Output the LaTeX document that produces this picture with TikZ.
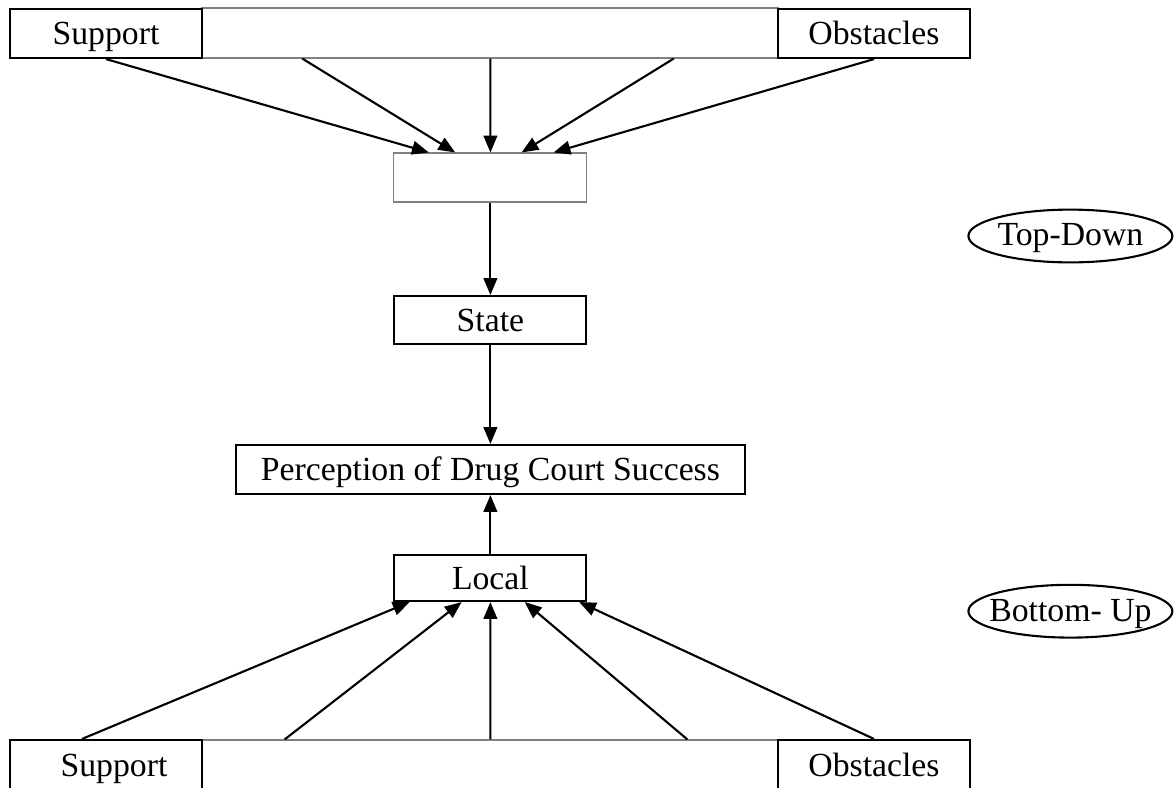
\documentclass[tikz,border=0pt]{standalone}
\usepackage{fontspec}
\setmainfont{Liberation Serif}
\usetikzlibrary{arrows.meta,shapes.geometric}
\tikzset{
	box/.style = {draw, line width = 0.75pt, minimum width = 2.4cm, minimum height = 0.6cm, inner sep = 0pt, text height = 9.5pt, text depth = 1.5pt, font = \fontsize{12}{14}\selectfont},
	cell/.style = {draw = gray, line width = 0.4pt, minimum height = 0.625cm, inner sep = 0pt},
	oval/.style = {draw, ellipse, line width = 0.75pt, minimum width = 2.55cm, minimum height = 0.66cm, inner xsep = -0.18cm, inner ysep = 0pt, text height = 9pt, text depth = 2pt, font = \fontsize{12}{14}\selectfont},
	arr/.style = {line width = 0.75pt, -{Triangle[length = 2.1mm, width = 1.7mm]}}
}
\begin{document}
\begin{tikzpicture}
	\clip (0, 0) rectangle (14.6875, -9.8375);
	\fill[white] (0, 0) rectangle (14.6875, -9.8375);
	
	\node[cell, minimum width = 7.2cm] (topmid) at (6.125, -0.4125) {};
	\node[box, minimum height = 0.6125cm] (topsupport) at (1.325, -0.419) {Support};
	\node[box, minimum height = 0.6125cm] (topobstacles) at (10.925, -0.419) {Obstacles};
	
	\node[cell, minimum width = 2.4125cm, minimum height = 0.6125cm] (blank) at (6.13, -2.219) {};
	\node[box] (state) at (6.13, -4.0) {State};
	\node[box, minimum width = 6.3625cm, minimum height = 0.6125cm] (success) at (6.13, -5.869) {Perception of Drug Court Success};
	\node[box, minimum height = 0.575cm] (local) at (6.13, -7.225) {Local};
	
	\node[cell, minimum width = 7.2cm] (botmid) at (6.125, -9.5625) {};
	\node[box, minimum height = 0.625cm] (botsupport) at (1.325, -9.5625) {\hspace{0.2cm}Support};
	\node[box, minimum height = 0.625cm] (botobstacles) at (10.925, -9.5625) {Obstacles};
	
	\node[oval] (topdown) at (13.38, -2.95) {Top-Down};
	\node[oval] (bottomup) at (13.38, -7.64) {Bottom- Up};
	
	\coordinate (t1) at (topsupport.south);
	\coordinate (t2) at ([xshift = 1.26cm]topmid.south west);
	\coordinate (t3) at ([xshift = 0.005cm]topmid.south);
	\coordinate (t4) at ([xshift = -1.31cm]topmid.south east);
	\coordinate (t5) at (topobstacles.south);
	\foreach \i/\dx in {1/-0.77, 2/-0.44, 3/0, 4/0.39, 5/0.79} {
		\coordinate (ti\i) at ([xshift = \dx cm]blank.north);
		\draw[arr] (t\i) -- (ti\i);
	}
	
	\coordinate (b1) at ([xshift = -0.3cm]botsupport.north);
	\coordinate (b2) at ([xshift = 1.04cm]botmid.north west);
	\coordinate (b3) at ([xshift = 0.005cm]botmid.north);
	\coordinate (b4) at ([xshift = -1.14cm]botmid.north east);
	\coordinate (b5) at (botobstacles.north);
	\foreach \i/\dx in {1/-1.01, 2/-0.36, 3/0, 4/0.43, 5/1.11} {
		\coordinate (bi\i) at ([xshift = \dx cm]local.south);
		\draw[arr] (b\i) -- (bi\i);
	}
	
	\draw[arr] (blank) -- (state);
	\draw[arr] (state) -- (success);
	\draw[arr] (local) -- (success);
\end{tikzpicture}
\end{document}
